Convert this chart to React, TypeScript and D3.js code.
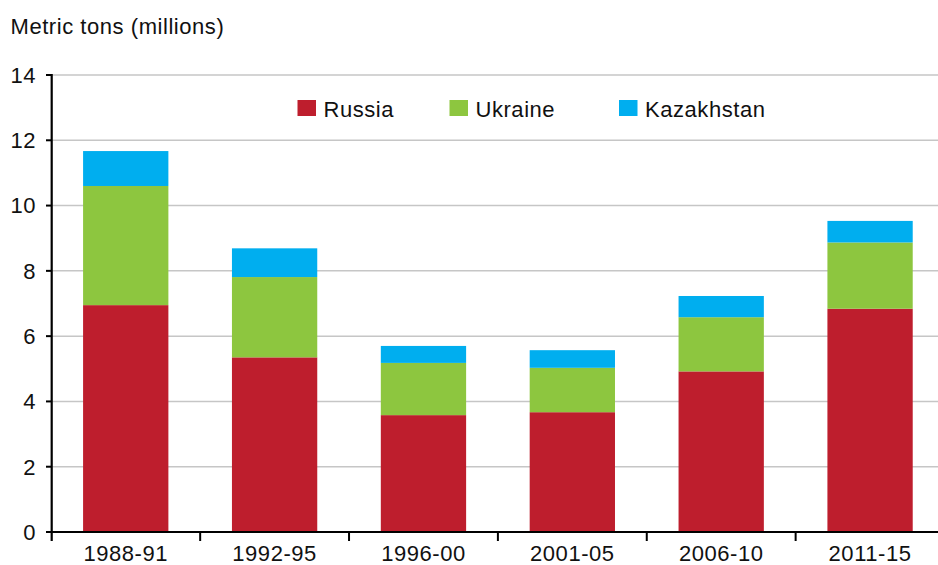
import React from "react";
import * as d3 from "d3";

const categories = ["1988-91", "1992-95", "1996-00", "2001-05", "2006-10", "2011-15"];
const russia = [6.95, 5.35, 3.58, 3.67, 4.92, 6.84];
const ukraine = [3.65, 2.46, 1.6, 1.36, 1.66, 2.03];
const kazakhstan = [1.07, 0.88, 0.52, 0.54, 0.65, 0.66];
const seriesNames = ["Russia", "Ukraine", "Kazakhstan"];
const seriesColors = ["#BE1E2D", "#8DC63F", "#00AEEF"];
const yTicks = [0, 2, 4, 6, 8, 10, 12, 14];
const yTitle = "Metric tons (millions)";

const W = 938;
const H = 565;
const FONT = "'Liberation Sans', Arial, Helvetica, sans-serif";
const FS = 22;
const LS = 0.55;

export default function App() {
  const x = d3.scaleBand<string>().domain(categories).range([51.3, 944.5]).paddingInner(0.427).paddingOuter(0.2135);
  const y = d3.scaleLinear().domain([0, 14]).range([532, 75]);

  const rows = categories.map((c, i) => ({
    cat: c,
    Russia: russia[i],
    Ukraine: ukraine[i],
    Kazakhstan: kazakhstan[i],
  }));
  const stack = d3.stack<any>().keys(seriesNames)(rows);

  const step = x.step();
  const x0 = 51.3;
  const boundaries = d3.range(categories.length + 1).map((i) => x0 + i * step);

  const legendX = [297.5, 449.5, 619];

  return (
    <svg width={W} height={H} style={{ position: "absolute", left: 0, top: 0, background: "#fff" }} fontFamily={FONT}>
      <text x={10.5} y={33.5} fontSize={FS} letterSpacing={LS} fill="#111">{yTitle}</text>
      {yTicks.map((t) => (
        <g key={t}>
          {t > 0 && <line x1={52} x2={W} y1={y(t)} y2={y(t)} stroke="#c6c6c6" strokeWidth={1.5} />}
          <line x1={46} x2={52} y1={y(t)} y2={y(t)} stroke="#000" strokeWidth={2} />
          <text x={36} y={y(t)} dy="0.36em" textAnchor="end" fontSize={FS} letterSpacing={LS} fill="#111">{t}</text>
        </g>
      ))}
      {stack.map((s, si) => (
        <g key={s.key} fill={seriesColors[si]}>
          {s.map((d, i) => (
            <rect key={i} x={x(categories[i])} width={x.bandwidth()} y={y(d[1])} height={y(d[0]) - y(d[1])} />
          ))}
        </g>
      ))}
      <line x1={51.7} x2={51.7} y1={74} y2={541} stroke="#000" strokeWidth={2.2} />
      <line x1={50.6} x2={W} y1={532} y2={532} stroke="#000" strokeWidth={2.2} />
      {boundaries.slice(1).map((b, i) => (
        <line key={i} x1={b} x2={b} y1={532} y2={541} stroke="#000" strokeWidth={2} />
      ))}
      {categories.map((c) => (
        <text key={c} x={(x(c) as number) + x.bandwidth() / 2} y={561} textAnchor="middle" fontSize={FS} letterSpacing={LS} fill="#111">{c}</text>
      ))}
      {seriesNames.map((n, i) => (
        <g key={n}>
          <rect x={legendX[i]} y={100} width={18.5} height={16} fill={seriesColors[i]} />
          <text x={legendX[i] + 26} y={116.5} fontSize={FS} letterSpacing={LS} fill="#111">{n}</text>
        </g>
      ))}
    </svg>
  );
}
